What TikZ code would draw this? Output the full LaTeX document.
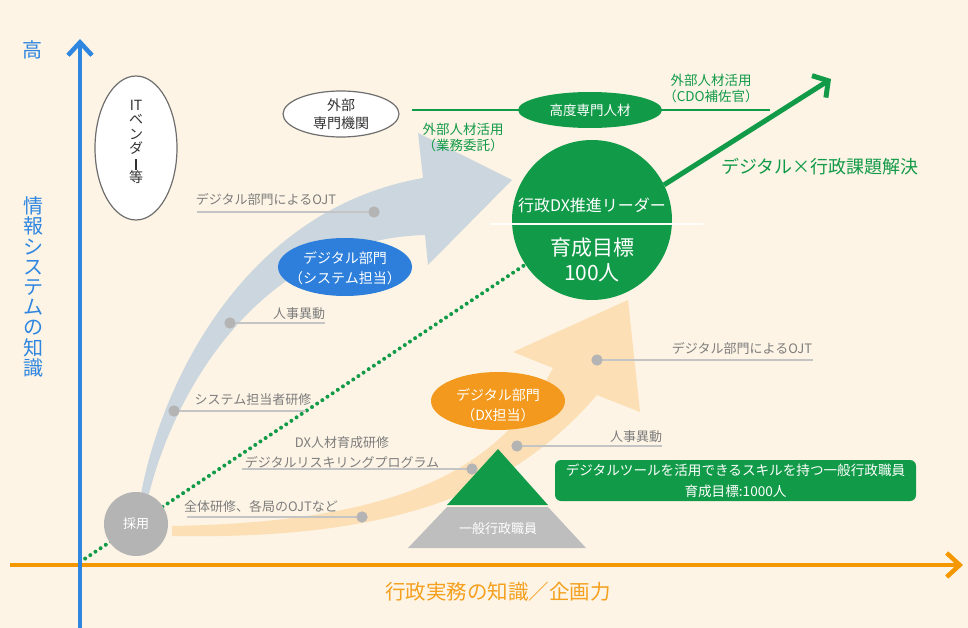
\documentclass[tikz,border=0pt]{standalone}
\usepackage{fontspec}
\setmainfont{Noto Sans CJK JP}
\usetikzlibrary{arrows.meta,shapes.geometric}
\definecolor{bgc}{RGB}{253,244,229}
\definecolor{axblue}{RGB}{46,134,224}
\definecolor{axorange}{RGB}{245,152,0}
\definecolor{xlabc}{RGB}{245,160,30}
\definecolor{dxgreen}{RGB}{17,154,72}
\definecolor{bandblue}{RGB}{203,214,222}
\definecolor{bandorange}{RGB}{252,223,180}
\definecolor{dotgray}{RGB}{180,180,180}
\definecolor{linegray}{RGB}{196,196,196}
\definecolor{txtgray}{RGB}{125,125,125}
\definecolor{ellblue}{RGB}{45,127,219}
\definecolor{ellorange}{RGB}{243,154,30}
\definecolor{pgray}{RGB}{190,190,190}
\definecolor{dark}{RGB}{50,50,50}
\definecolor{ovalline}{RGB}{110,110,110}
\newcommand\myfs[1]{\fontsize{#1}{#1}\selectfont}
\newcommand\myfsb[2]{\fontsize{#1}{#2}\selectfont}
\begin{document}
\begin{tikzpicture}[x=1pt,y=-1pt,
  lbl/.style={inner sep=0, text=txtgray, font=\myfs{13}},
  gdot/.style={circle, fill=dotgray, minimum size=11pt, inner sep=0},
  gline/.style={draw=linegray, line width=1.5pt},
  grn/.style={text=dxgreen, inner sep=0, align=center},
  wtxt/.style={text=white, inner sep=0, align=center},
  oval/.style={ellipse, inner sep=0},
  axisline/.style={line width=4.5pt, -{Straight Barb[length=13pt,width=24pt]}}
]
\useasboundingbox (0,0) rectangle (968,628);
\fill[bgc] (0,0) rectangle (968,628);

% bands
\fill[bandblue] (141,494) .. controls (160,390) and (240,210) .. (423,178)
  -- (418,133) -- (512,180) -- (428,265) -- (425,235)
  .. controls (260,240) and (175,390) .. (149,494) -- cycle;
\fill[bandorange] (172,526) .. controls (400,522) and (500,470) .. (553,368)
  -- (513,352) -- (628,300) -- (640,412) -- (597,395)
  .. controls (515,490) and (400,540) .. (172,536) -- cycle;

% nodes that connectors need
\node[circle, fill=dxgreen, minimum size=160pt, inner sep=0] (circ) at (592,220) {};
\coordinate (origin) at (80,562);
\draw[dxgreen, line width=4pt, line cap=round, dash pattern=on 0pt off 6.2pt] (origin) -- (circ);
\node[circle, fill=dotgray, minimum size=64pt, inner sep=0] (saiyo) at (136,524) {};

% axes
\coordinate (xl) at (10,565); \coordinate (xr) at (963,565);
\draw[axorange, axisline] (xl) -- (xr);
\coordinate (yb) at (80,640); \coordinate (yt) at (80,39);
\draw[axblue, axisline] (yb) -- (yt);

% label lines and dots
\node[gdot] (d1) at (374,212) {}; \coordinate (e1) at (197,212);
\node[gdot] (d2) at (230,323) {}; \coordinate (e2) at (325,323);
\node[gdot] (d3) at (174,411) {}; \coordinate (e3) at (306,411);
\node[gdot] (d4) at (362,517) {}; \coordinate (e4) at (187,517);
\node[gdot] (d5) at (472,469) {}; \coordinate (e5) at (242,469);
\node[gdot] (d6) at (517,446) {}; \coordinate (e6) at (662,446);
\node[gdot] (d7) at (597,360) {}; \coordinate (e7) at (813,360);
\foreach \i in {1,...,7} {\draw[gline] (d\i.center) -- (e\i);}
\foreach \i in {1,...,7} {\fill[dotgray] (d\i) circle (5.5pt);}

\node[lbl] (l1) at (266,199) {デジタル部門によるOJT};
\node[lbl] (l2) at (299,314) {人事異動};
\node[lbl] (l3) at (253,400) {システム担当者研修};
\node[lbl] (l4) at (261,507) {全体研修、各局のOJTなど};
\node[lbl, align=center, font=\myfsb{13}{20}] (l5) at (342,452) {DX人材育成研修\\デジタルリスキリングプログラム};
\node[lbl] (l6) at (636,437) {人事異動};
\node[lbl] (l7) at (742,348) {デジタル部門によるOJT};

% green circle contents
\draw[white!85!bgc, line width=1.5pt] (490,224) -- (703,224);
\node[wtxt, font=\myfs{16}] (lead) at (592,205) {行政DX推進リーダー};
\node[wtxt, font=\myfsb{21}{25}] (goal) at (592,259.5) {育成目標\\100人};

% green arrow
\coordinate (gtip) at (831,79);
\draw[dxgreen, line width=5pt, -{Straight Barb[length=11pt,width=26pt]}] (circ.26) -- (gtip);
\node[text=dxgreen, inner sep=0, font=\myfs{18}] (kadai) at (820,167) {デジタル×行政課題解決};

% external
\coordinate (gl1) at (412,110); \coordinate (gl2) at (770,110);
\draw[dxgreen, line width=2pt] (gl1) -- (gl2);
\node[oval, fill=dxgreen, minimum width=144pt, minimum height=36pt] (senmon) at (590,110) {};
\node[wtxt, font=\myfs{13.5}] at (senmon) {高度専門人材};
\node[grn, font=\myfsb{13.5}{16}] (cdo) at (711,88) {外部人材活用\\（CDO補佐官）};
\node[grn, font=\myfsb{13.5}{15.5}] (itaku) at (463,137.5) {外部人材活用\\（業務委託）};
\node[oval, draw=ovalline, line width=1.2pt, fill=white, minimum width=116pt, minimum height=46pt] (ext) at (341,114) {};
\node[inner sep=0, align=center, text=dark, font=\myfsb{14}{18}] at (ext) {外部\\専門機関};
\node[oval, draw=ovalline, line width=1.2pt, fill=white, minimum width=82pt, minimum height=144pt] (itv) at (136,148) {};
\node[inner sep=0, align=center, text=dark, font=\myfsb{14}{14.5}] at (136,142) {IT\\ベ\\ン\\ダ\\\rule[-1.5pt]{1.3pt}{11pt}\\等};

% department ellipses
\node[oval, fill=ellblue, minimum width=134pt, minimum height=58pt] (sysd) at (345,267) {};
\node[wtxt, font=\myfsb{14}{20}] at (345,268) {デジタル部門\\（システム担当）};
\node[oval, fill=ellorange, minimum width=134pt, minimum height=58pt] (dxd) at (498,401) {};
\node[wtxt, font=\myfsb{14}{20}] at (498,405) {デジタル部門\\（DX担当）};

% saiyo text
\node[wtxt, font=\myfs{13}] at (saiyo) {採用};

% pyramid
\fill[dxgreen] (498,449) -- (548,505) -- (447,505) -- cycle;
\fill[pgray] (447,507) -- (548,507) -- (586,548) -- (408,548) -- cycle;
\node[wtxt, font=\myfs{13}] (ippan) at (498,529) {一般行政職員};

% green box
\node[fill=dxgreen, rounded corners=6pt, minimum width=361pt, minimum height=41pt, inner sep=0] (box) at (735.5,480.5) {};
\node[wtxt, font=\myfsb{13.6}{21}] at (box) {デジタルツールを活用できるスキルを持つ一般行政職員\\育成目標:1000人};

% axis labels
\node[inner sep=0, text=axblue, font=\myfs{20}] (hi) at (32,50) {高};
\node[inner sep=0, align=center, text=axblue, font=\myfsb{20}{20.2}] (ylab) at (33,287) {情\\報\\シ\\ス\\テ\\ム\\の\\知\\識};
\node[inner sep=0, text=xlabc, font=\myfs{20.5}] (xlab) at (498,592) {行政実務の知識／企画力};
\end{tikzpicture}
\end{document}
